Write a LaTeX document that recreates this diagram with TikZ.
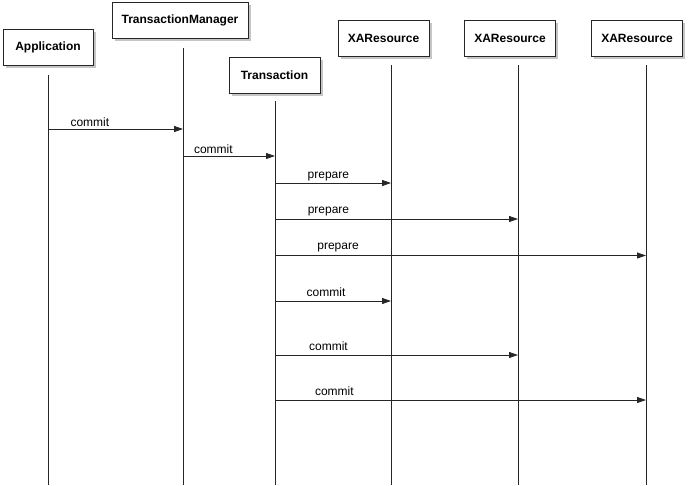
\documentclass[tikz,border=0pt]{standalone}
\usepackage{fontspec}
\setmainfont{Liberation Sans}
\usetikzlibrary{arrows.meta,shadows}

\begin{document}
\begin{tikzpicture}[
        x=1pt, y=-1pt,
        obj/.style={rectangle, draw=black!85, fill=white, line width=0.8pt, minimum height=36pt,
            font=\fontsize{12}{14}\selectfont\bfseries,
            drop shadow={shadow xshift=2.5pt, shadow yshift=-2.5pt, fill=black!45}},
        life/.style={line width=0.85pt, draw=black!85},
        msg/.style={-{Triangle[length=9pt,width=6pt]}, line width=0.85pt, draw=black!85},
        lbl/.style={above, inner sep=2pt, font=\fontsize{12}{14}\selectfont}
    ]

    \useasboundingbox (0,0) rectangle (690,485);

    % objects
    \node[obj, minimum width=90pt] (app) at (48,47.5) {Application};
    \node[obj, minimum width=136pt] (tm) at (180,20.5) {TransactionManager};
    \node[obj, minimum width=91pt] (tx) at (274.5,75) {Transaction};
    \node[obj, minimum width=91pt] (xa1) at (383.5,38) {XAResource};
    \node[obj, minimum width=91pt] (xa2) at (510,38) {XAResource};
    \node[obj, minimum width=91pt] (xa3) at (637,38) {XAResource};

    % lifelines
    \coordinate (bottom) at (0,485);
    \coordinate (lapp) at ([yshift=-9]app.south);
    \coordinate (ltm) at ([xshift=3,yshift=-9]tm.south);
    \coordinate (ltx) at ([xshift=0.5,yshift=-8]tx.south);
    \coordinate (lxa1) at ([xshift=7.5,yshift=-9]xa1.south);
    \coordinate (lxa2) at ([xshift=8,yshift=-9]xa2.south);
    \coordinate (lxa3) at ([xshift=9,yshift=-9]xa3.south);
    \foreach \l in {lapp,ltm,ltx,lxa1,lxa2,lxa3}
        \draw[life] (\l) -- (\l |- bottom);

    % messages
    \draw[msg] (lapp |- 0,129) -- (ltm |- 0,129) node[lbl, pos=0.31] {commit};
    \draw[msg] (ltm |- 0,156) -- (ltx |- 0,156) node[lbl, pos=0.33] {commit};
    \draw[msg] (ltx |- 0,183) -- (lxa1 |- 0,183) node[lbl, pos=0.46] {prepare};
    \draw[msg] (ltx |- 0,219) -- (lxa2 |- 0,219) node[lbl, pos=0.22, yshift=1] {prepare};
    \draw[msg] (ltx |- 0,255.5) -- (lxa3 |- 0,255.5) node[lbl, pos=0.17, yshift=1] {prepare};
    \draw[msg] (ltx |- 0,301) -- (lxa1 |- 0,301) node[lbl, pos=0.44, yshift=2] {commit};
    \draw[msg] (ltx |- 0,355) -- (lxa2 |- 0,355) node[lbl, pos=0.22, yshift=2] {commit};
    \draw[msg] (ltx |- 0,400) -- (lxa3 |- 0,400) node[lbl, pos=0.16, yshift=2] {commit};

\end{tikzpicture}
\end{document}
